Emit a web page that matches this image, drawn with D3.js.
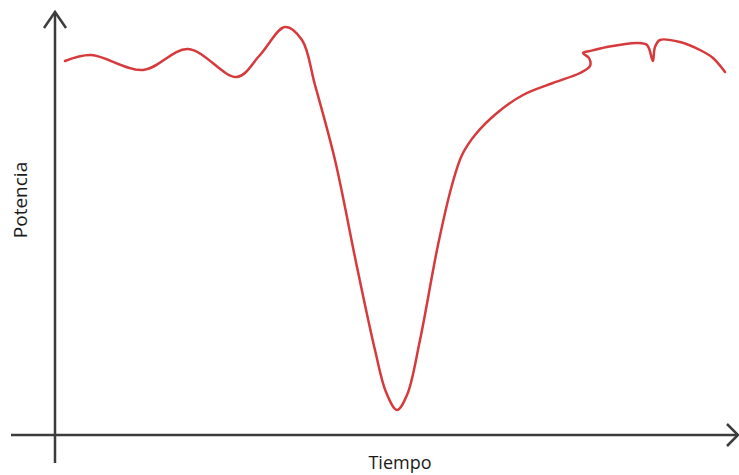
<!DOCTYPE html>
<html><head><meta charset="utf-8">
<script src="https://cdn.jsdelivr.net/npm/d3@7"></script>
<style>body{margin:0;background:#fff}svg{display:block}</style>
</head><body>
<svg id="c" width="739" height="475"></svg>
<script>
// Data: time (arbitrary units) and power (arbitrary units)
const tiempo = [1.0, 3.6, 8.8, 13.3, 18.2, 20.5, 23.0, 24.7, 26.0, 28.0, 30.2, 32.0, 33.1, 34.2, 35.2, 36.5, 38.3, 39.7, 40.7, 42.0, 44.2, 46.8, 49.8, 52.5, 53.5, 53.4, 52.8, 53.5, 55.2, 58.2, 59.2, 59.7, 59.8, 60.0, 60.5, 62.5, 64.5, 65.8, 67.0];
const potencia = [37.4, 38.0, 36.5, 38.6, 35.8, 38.0, 40.8, 39.5, 35.0, 27.5, 16.8, 8.5, 4.3, 2.5, 4.0, 9.5, 19.0, 25.0, 28.0, 30.0, 32.2, 34.0, 35.2, 36.2, 36.9, 37.7, 38.2, 38.4, 38.8, 39.2, 39.0, 37.6, 37.4, 38.8, 39.5, 39.3, 38.5, 37.7, 36.3];
const axisX = [-4.4, 68.3];
const axisY = [-2.8, 42.3];
const labels = {x: "Tiempo", y: "Potencia"};

const svg = d3.select("#c");
const x = d3.scaleLinear().domain([0, 68]).range([55, 735]);
const y = d3.scaleLinear().domain([0, 42]).range([435, 15]);
const axisColor = "#3c3c3c";

// axes
svg.append("line").attr("x1", x(axisX[0])).attr("x2", x(axisX[1])).attr("y1", y(0)).attr("y2", y(0))
  .attr("stroke", axisColor).attr("stroke-width", 2.5);
svg.append("line").attr("x1", x(0)).attr("x2", x(0)).attr("y1", y(axisY[0])).attr("y2", y(axisY[1]))
  .attr("stroke", axisColor).attr("stroke-width", 2.5);
// arrow heads
const xe = x(axisX[1]), ye = y(axisY[1]);
svg.append("path").attr("d", `M${xe-11},${y(0)-11}L${xe},${y(0)}L${xe-11},${y(0)+11}`)
  .attr("fill", "none").attr("stroke", axisColor).attr("stroke-width", 2.5);
svg.append("path").attr("d", `M${x(0)-11},${ye+16}L${x(0)},${ye}L${x(0)+11},${ye+16}`)
  .attr("fill", "none").attr("stroke", axisColor).attr("stroke-width", 2.5);

// curve
const pts = tiempo.map((t, i) => [t, potencia[i]]);
const line = d3.line().x(d => x(d[0])).y(d => y(d[1])).curve(d3.curveCatmullRom.alpha(0.5));
svg.append("path").datum(pts).attr("d", line)
  .attr("fill", "none").attr("stroke", "#d63a3c").attr("stroke-width", 2.5)
  .attr("stroke-linejoin", "round").attr("stroke-linecap", "round");

// labels
svg.append("text").attr("x", 400).attr("y", 469).attr("text-anchor", "middle")
  .attr("font-family", "Open Sans, sans-serif").attr("font-size", 18).attr("fill", "#1a1a1a")
  .text(labels.x);
svg.append("text").attr("transform", "translate(27,200) rotate(-90)").attr("text-anchor", "middle")
  .attr("font-family", "Open Sans, sans-serif").attr("font-size", 19).attr("fill", "#1a1a1a")
  .text(labels.y);
</script>
</body></html>
